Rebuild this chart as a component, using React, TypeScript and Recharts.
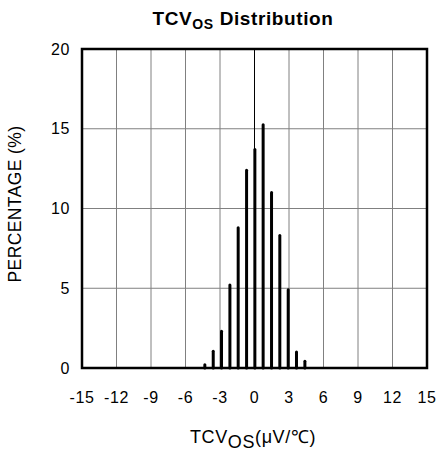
import React from 'react';
import { ComposedChart, Bar, XAxis, YAxis, CartesianGrid, ReferenceLine, ReferenceArea } from 'recharts';

const binCenters = [-4.35, -3.62, -2.9, -2.17, -1.45, -0.72, 0, 0.72, 1.45, 2.17, 2.9, 3.62, 4.35];
const percentages = [0.2, 1.05, 2.3, 5.2, 8.8, 12.4, 13.7, 15.25, 11.0, 8.3, 4.9, 1.0, 0.42];
const xTicks = [-15, -12, -9, -6, -3, 0, 3, 6, 9, 12, 15];
const yTicks = [0, 5, 10, 15, 20];

const data = binCenters.map((x, i) => ({ x, pct: percentages[i] }));

const FONT = '"Liberation Sans", Arial, sans-serif';

function Stick(props: any) {
  const { x, y, width, height } = props;
  if (!height || height <= 0) return null;
  const cx = x + width / 2;
  return (
    <line x1={cx} x2={cx} y1={y} y2={y + height} stroke="#000" strokeWidth={3} strokeLinecap="round" />
  );
}

export default function App() {
  return (
    <div style={{ position: 'absolute', left: 0, top: 0, width: 438, height: 451, fontFamily: FONT }}>
      <ComposedChart width={438} height={451} data={data} margin={{ top: 49, right: 11, left: 0, bottom: 0 }}>
        <CartesianGrid stroke="#808080" strokeWidth={1} horizontalValues={[5, 10, 15]} verticalValues={[-12, -9, -6, -3, 3, 6, 9, 12]} />
        <XAxis
          dataKey="x"
          type="number"
          domain={[-15, 15]}
          ticks={xTicks}
          interval={0}
          axisLine={false}
          tickLine={false}
          tickSize={0}
          tickMargin={24}
          height={83}
          tick={{ fill: '#000', fontSize: 16, fontFamily: FONT, letterSpacing: 0.6 }}
        />
        <YAxis
          type="number"
          domain={[0, 20]}
          ticks={yTicks}
          interval={0}
          axisLine={false}
          tickLine={false}
          tickSize={0}
          tickMargin={12}
          width={82}
          tick={{ fill: '#000', fontSize: 16, fontFamily: FONT, letterSpacing: 0.6 }}
        />
        <ReferenceLine x={0} stroke="#000" strokeWidth={1} />
        <Bar dataKey="pct" barSize={3} shape={<Stick />} isAnimationActive={false} />
        <ReferenceArea x1={-15} x2={15} y1={0} y2={20} fill="none" stroke="#000" strokeWidth={2.5} ifOverflow="visible" />
      </ComposedChart>
      <svg width={438} height={451} style={{ position: 'absolute', left: 0, top: 0, pointerEvents: 'none' }}>
        <text x={243} y={25} textAnchor="middle" fontSize={19} fontWeight="bold" fill="#000" fontFamily={FONT} letterSpacing={0.6}>
          TCV<tspan fontSize={14} dy={4}>OS</tspan><tspan dy={-4}> Distribution</tspan>
        </text>
        <text x={253} y={443} textAnchor="middle" fontSize={18} fill="#000" fontFamily={FONT} letterSpacing={0.6}>
          TCV<tspan dy={5}>OS</tspan><tspan dy={-5}>(μV/℃)</tspan>
        </text>
        <text x={0} y={0} transform="translate(21,204) rotate(-90)" textAnchor="middle" fontSize={17.5} fill="#000" fontFamily={FONT} letterSpacing={0.4}>
          PERCENTAGE (%)
        </text>
      </svg>
    </div>
  );
}
